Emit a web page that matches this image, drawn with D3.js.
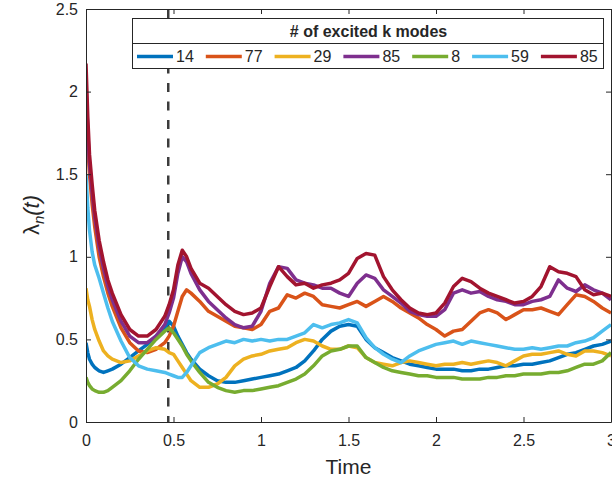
<!DOCTYPE html>
<html>
<head>
<meta charset="utf-8">
<title>lambda_n(t)</title>
<script src="https://cdn.jsdelivr.net/npm/d3@7"></script>
<style>
  body { margin: 0; background: #fff; }
  text { font-family: "Liberation Sans", Arial, Helvetica, sans-serif; fill: #262626; }
</style>
</head>
<body>
<svg id="chart" width="612" height="480"></svg>
<script>
// time samples shared by every run
const tData = [
  0, 0.01, 0.02, 0.035, 0.05, 0.075, 0.1, 0.125, 0.15, 0.2,
  0.25, 0.3, 0.35, 0.4, 0.45, 0.475, 0.5, 0.525, 0.55, 0.575,
  0.6, 0.65, 0.7, 0.75, 0.8, 0.85, 0.9, 0.95, 1.0, 1.05,
  1.1, 1.15, 1.2, 1.25, 1.3, 1.35, 1.4, 1.45, 1.5, 1.55,
  1.6, 1.65, 1.7, 1.75, 1.8, 1.85, 1.9, 1.95, 2.0, 2.05,
  2.1, 2.15, 2.2, 2.25, 2.3, 2.35, 2.4, 2.45, 2.5, 2.55,
  2.6, 2.65, 2.7, 2.75, 2.8, 2.85, 2.9, 2.95, 3.0
];

const s14 = [
  0.48, 0.42, 0.38, 0.35, 0.33, 0.31, 0.30, 0.31, 0.32, 0.35,
  0.39, 0.43, 0.47, 0.52, 0.57, 0.61, 0.58, 0.52, 0.47, 0.42,
  0.38, 0.32, 0.28, 0.25, 0.24, 0.24, 0.25, 0.26, 0.27, 0.28,
  0.29, 0.31, 0.33, 0.37, 0.43, 0.50, 0.55, 0.58, 0.59, 0.58,
  0.50, 0.45, 0.42, 0.39, 0.37, 0.35, 0.34, 0.33, 0.32, 0.32,
  0.32, 0.31, 0.31, 0.32, 0.32, 0.33, 0.34, 0.34, 0.35, 0.35,
  0.36, 0.37, 0.39, 0.41, 0.42, 0.44, 0.46, 0.47, 0.49
];
const s77 = [
  1.93, 1.68, 1.50, 1.32, 1.18, 1.00, 0.88, 0.78, 0.70, 0.57,
  0.48, 0.43, 0.42, 0.44, 0.48, 0.52, 0.58, 0.67, 0.76, 0.80,
  0.78, 0.73, 0.67, 0.64, 0.61, 0.58, 0.57, 0.56, 0.59, 0.67,
  0.69, 0.77, 0.75, 0.78, 0.76, 0.71, 0.70, 0.69, 0.71, 0.73,
  0.70, 0.73, 0.76, 0.73, 0.69, 0.66, 0.63, 0.59, 0.56, 0.52,
  0.55, 0.56, 0.61, 0.66, 0.68, 0.66, 0.62, 0.65, 0.68, 0.68,
  0.69, 0.67, 0.65, 0.71, 0.77, 0.76, 0.73, 0.69, 0.66
];
const s29 = [
  0.81, 0.74, 0.70, 0.62, 0.56, 0.49, 0.43, 0.40, 0.38, 0.36,
  0.37, 0.40, 0.43, 0.45, 0.44, 0.42, 0.41, 0.37, 0.33, 0.29,
  0.25, 0.21, 0.21, 0.23, 0.27, 0.34, 0.38, 0.40, 0.41, 0.43,
  0.44, 0.45, 0.48, 0.50, 0.49, 0.46, 0.44, 0.44, 0.46, 0.45,
  0.39, 0.36, 0.35, 0.34, 0.36, 0.37, 0.36, 0.35, 0.34, 0.35,
  0.35, 0.36, 0.35, 0.36, 0.37, 0.36, 0.34, 0.37, 0.40, 0.41,
  0.41, 0.42, 0.43, 0.41, 0.40, 0.43, 0.43, 0.42, 0.40
];
const s85a = [
  2.05, 1.76, 1.56, 1.39, 1.24, 1.06, 0.93, 0.82, 0.74, 0.61,
  0.52, 0.48, 0.48, 0.52, 0.59, 0.66, 0.75, 0.90, 1.00, 0.97,
  0.90, 0.80, 0.73, 0.68, 0.63, 0.59, 0.57, 0.58, 0.67, 0.84,
  0.94, 0.93, 0.86, 0.84, 0.83, 0.81, 0.81, 0.78, 0.76, 0.84,
  0.89, 0.87, 0.80, 0.76, 0.72, 0.67, 0.65, 0.64, 0.64, 0.68,
  0.78, 0.80, 0.78, 0.79, 0.76, 0.74, 0.73, 0.71, 0.71, 0.73,
  0.74, 0.76, 0.86, 0.81, 0.79, 0.83, 0.80, 0.78, 0.74
];
const s8 = [
  0.27, 0.24, 0.22, 0.20, 0.19, 0.18, 0.18, 0.19, 0.21, 0.25,
  0.31, 0.38, 0.44, 0.50, 0.55, 0.57, 0.54, 0.50, 0.46, 0.41,
  0.37, 0.30, 0.24, 0.21, 0.19, 0.18, 0.19, 0.19, 0.20, 0.21,
  0.22, 0.24, 0.26, 0.29, 0.34, 0.40, 0.43, 0.44, 0.46, 0.46,
  0.39, 0.36, 0.33, 0.31, 0.30, 0.29, 0.28, 0.28, 0.27, 0.27,
  0.27, 0.26, 0.26, 0.26, 0.27, 0.27, 0.28, 0.28, 0.29, 0.29,
  0.29, 0.30, 0.30, 0.31, 0.33, 0.35, 0.35, 0.37, 0.42
];
const s59 = [
  1.50, 1.30, 1.16, 1.03, 0.95, 0.87, 0.78, 0.69, 0.61, 0.49,
  0.39, 0.34, 0.32, 0.31, 0.30, 0.29, 0.28, 0.27, 0.27, 0.30,
  0.34, 0.42, 0.45, 0.47, 0.49, 0.48, 0.50, 0.49, 0.50, 0.49,
  0.50, 0.50, 0.52, 0.54, 0.59, 0.57, 0.59, 0.60, 0.62, 0.60,
  0.51, 0.45, 0.41, 0.38, 0.36, 0.40, 0.43, 0.45, 0.47, 0.48,
  0.49, 0.47, 0.49, 0.48, 0.47, 0.46, 0.45, 0.44, 0.44, 0.45,
  0.44, 0.45, 0.46, 0.46, 0.48, 0.49, 0.51, 0.55, 0.59
];
const s85b = [
  2.17, 1.85, 1.62, 1.44, 1.28, 1.10, 0.97, 0.86, 0.78, 0.65,
  0.56, 0.52, 0.52, 0.56, 0.64, 0.71, 0.80, 0.95, 1.04, 1.00,
  0.93, 0.84, 0.81, 0.76, 0.71, 0.67, 0.65, 0.66, 0.69, 0.82,
  0.94, 0.88, 0.83, 0.84, 0.81, 0.83, 0.84, 0.86, 0.90, 0.99,
  1.02, 1.01, 0.88, 0.80, 0.74, 0.69, 0.66, 0.65, 0.66, 0.72,
  0.82, 0.87, 0.85, 0.81, 0.78, 0.76, 0.74, 0.72, 0.73, 0.76,
  0.82, 0.94, 0.91, 0.90, 0.88, 0.80, 0.77, 0.78, 0.76
];

const seriesValues = [s14, s77, s29, s85a, s8, s59, s85b];
const seriesLabels = ["14", "77", "29", "85", "8", "59", "85"];
const seriesColors = ["#0072BD", "#D95319", "#EDB120", "#7E2F8E", "#77AC30", "#4DBEEE", "#A2142F"];

const xTicks = [0, 0.5, 1, 1.5, 2, 2.5, 3];
const yTicks = [0, 0.5, 1, 1.5, 2, 2.5];
const tMark = 0.47;   // dashed marker
const legendTitle = "# of excited k modes";

const svg = d3.select("#chart");
const pLeft = 86, pRight = 611, pTop = 9, pBottom = 422;

const x = d3.scaleLinear().domain([0, 3]).range([pLeft, pRight]);
const y = d3.scaleLinear().domain([0, 2.5]).range([pBottom, pTop]);

svg.append("rect").attr("width", 612).attr("height", 480).attr("fill", "#fff");

// dashed vertical marker
svg.append("line")
  .attr("x1", x(tMark)).attr("x2", x(tMark))
  .attr("y1", y(2.5)).attr("y2", y(0))
  .attr("stroke", "#3c3c3c")
  .attr("stroke-width", 2.5)
  .attr("stroke-dasharray", "9,9.5");

// curves
const line = d3.line()
  .x((d, i) => x(tData[i]))
  .y(d => y(d));

svg.append("defs").append("clipPath").attr("id", "clip")
  .append("rect").attr("x", pLeft).attr("y", pTop)
  .attr("width", pRight - pLeft).attr("height", pBottom - pTop);

svg.append("g").attr("clip-path", "url(#clip)")
  .selectAll("path")
  .data(seriesValues)
  .join("path")
  .attr("d", line)
  .attr("fill", "none")
  .attr("stroke", (d, i) => seriesColors[i])
  .attr("stroke-width", 3.5)
  .attr("stroke-linejoin", "round")
  .attr("stroke-linecap", "butt");

// axes (box with inward ticks)
const fmt = d => String(d);
const styleAxis = g => {
  g.selectAll("path, line").attr("stroke", "#262626");
  g.selectAll("text").attr("fill", "#262626").style("font-size", "16px")
    .style("font-family", '"Liberation Sans", Arial, Helvetica, sans-serif');
};

svg.append("g").attr("transform", `translate(0,${pBottom})`)
  .call(d3.axisBottom(x).tickValues(xTicks).tickFormat(fmt).tickSizeInner(-5).tickSizeOuter(0).tickPadding(13))
  .call(styleAxis);
svg.append("g").attr("transform", `translate(0,${pTop})`)
  .call(d3.axisTop(x).tickValues(xTicks).tickFormat("").tickSizeInner(-5).tickSizeOuter(0))
  .call(styleAxis);
svg.append("g").attr("transform", `translate(${pLeft},0)`)
  .call(d3.axisLeft(y).tickValues(yTicks).tickFormat(fmt).tickSizeInner(-5).tickSizeOuter(0).tickPadding(8))
  .call(styleAxis);
svg.append("g").attr("transform", `translate(${pRight},0)`)
  .call(d3.axisRight(y).tickValues(yTicks).tickFormat("").tickSizeInner(-5).tickSizeOuter(0))
  .call(styleAxis);

// axis labels
svg.append("text")
  .attr("x", (pLeft + pRight) / 2).attr("y", 474)
  .attr("text-anchor", "middle")
  .style("font-size", "21px")
  .text("Time");

const yl = svg.append("text")
  .attr("transform", "translate(39,215) rotate(-90)")
  .attr("text-anchor", "middle")
  .style("font-size", "22px");
yl.append("tspan").text("λ");
yl.append("tspan").attr("dy", 5).style("font-size", "15px").style("font-style", "italic").text("n");
yl.append("tspan").attr("dy", -5).style("font-style", "italic").text("(t)");

// legend
const lg = svg.append("g");
const lgX0 = 132, lgY0 = 18, lgW = 471, lgH = 50, lgDiv = 43;
lg.append("rect")
  .attr("x", lgX0 + 0.5).attr("y", lgY0 + 0.5)
  .attr("width", lgW).attr("height", lgH)
  .attr("fill", "#fff").attr("stroke", "#262626").attr("stroke-width", 1);
lg.append("line")
  .attr("x1", lgX0).attr("x2", lgX0 + lgW)
  .attr("y1", lgDiv + 0.5).attr("y2", lgDiv + 0.5)
  .attr("stroke", "#262626");
lg.append("text")
  .attr("x", lgX0 + lgW / 2 + 1).attr("y", 37)
  .attr("text-anchor", "middle")
  .style("font-size", "16px").style("font-weight", "bold")
  .attr("fill", "#000")
  .text(legendTitle);

let cx = lgX0 + 5;
seriesLabels.forEach((lab, i) => {
  lg.append("line")
    .attr("x1", cx).attr("x2", cx + 36)
    .attr("y1", 56.5).attr("y2", 56.5)
    .attr("stroke", seriesColors[i]).attr("stroke-width", 3.5);
  const t = lg.append("text")
    .attr("x", cx + 39).attr("y", 62)
    .style("font-size", "16px")
    .attr("fill", "#000")
    .text(lab);
  cx += 39 + t.node().getComputedTextLength() + 12;
});
</script>
</body>
</html>
